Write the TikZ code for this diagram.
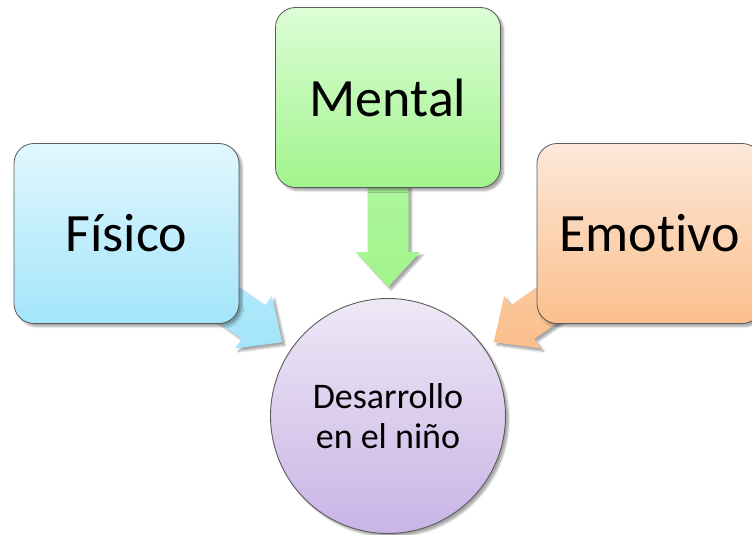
\documentclass[tikz,border=0pt]{standalone}
\usepackage{fontspec}
\setmainfont{Carlito}[Ligatures={NoCommon,NoDiscretionary,NoContextual}]
\usetikzlibrary{calc,shadows.blur}
\pgfdeclarelayer{bg}
\pgfsetlayers{bg,main}
\definecolor{boxline}{HTML}{5A5A5A}
\definecolor{bluetop}{HTML}{E1F7FE}
\definecolor{bluebot}{HTML}{A3E5FA}
\definecolor{greentop}{HTML}{DCFDD6}
\definecolor{greenbot}{HTML}{A1F48C}
\definecolor{orangetop}{HTML}{FDE8DA}
\definecolor{orangebot}{HTML}{FBBF8C}
\definecolor{violettop}{HTML}{EEE8F6}
\definecolor{violetbot}{HTML}{C9B4E6}
\tikzset{
  softshadow/.style={blur shadow={shadow xshift=3pt, shadow yshift=-3pt, shadow blur steps=6, shadow opacity=35}},
  box/.style={draw=boxline, line width=0.8pt, rounded corners=20pt,
    minimum width=225pt, minimum height=180pt, inner sep=0pt,
    font=\fontsize{54}{60}\selectfont, softshadow},
  hub/.style={circle, draw=boxline, line width=0.9pt, minimum size=235pt, inner sep=0pt,
    align=center, font=\fontsize{36}{40}\selectfont, softshadow,
    top color=violettop, bottom color=violetbot},
  barrow/.style={softshadow}
}
\newcommand\blockarrow[3]{%
  \coordinate (#1-tip) at ($(#2.center)!129pt!(#1.center)$);
  \coordinate (#1-hb) at ($(#1-tip)!35pt!(#1.center)$);
  \path[barrow,#3]
    ($(#1.center)!20.5pt!90:(#1-tip)$) --
    ($(#1-hb)!20.5pt!90:(#1-tip)$) --
    ($(#1-hb)!32pt!90:(#1-tip)$) --
    (#1-tip) --
    ($(#1-hb)!32pt!-90:(#1-tip)$) --
    ($(#1-hb)!20.5pt!-90:(#1-tip)$) --
    ($(#1.center)!20.5pt!-90:(#1-tip)$) -- cycle;
}
\begin{document}
\begin{tikzpicture}[x=1pt,y=-1pt]
  \useasboundingbox (0,0) rectangle (752,535);
  \clip (0,0) rectangle (752,535);
  \node[box, top color=bluetop, bottom color=bluebot] (fisico) at (126.5,233.5) {Físico};
  \node[box, top color=greentop, bottom color=greenbot] (mental) at (388,97.5) {Mental};
  \node[box, top color=orangetop, bottom color=orangebot] (emotivo) at (649.5,233.5) {Emotivo};
  \node[hub] (nino) at (388,416) {Desarrollo\\en el niño};
  \begin{pgfonlayer}{bg}
    \blockarrow{fisico}{nino}{top color=bluetop!40!bluebot, bottom color=bluebot}
    \blockarrow{mental}{nino}{top color=greentop!40!greenbot, bottom color=greenbot}
    \blockarrow{emotivo}{nino}{top color=orangetop!40!orangebot, bottom color=orangebot}
  \end{pgfonlayer}
\end{tikzpicture}
\end{document}
